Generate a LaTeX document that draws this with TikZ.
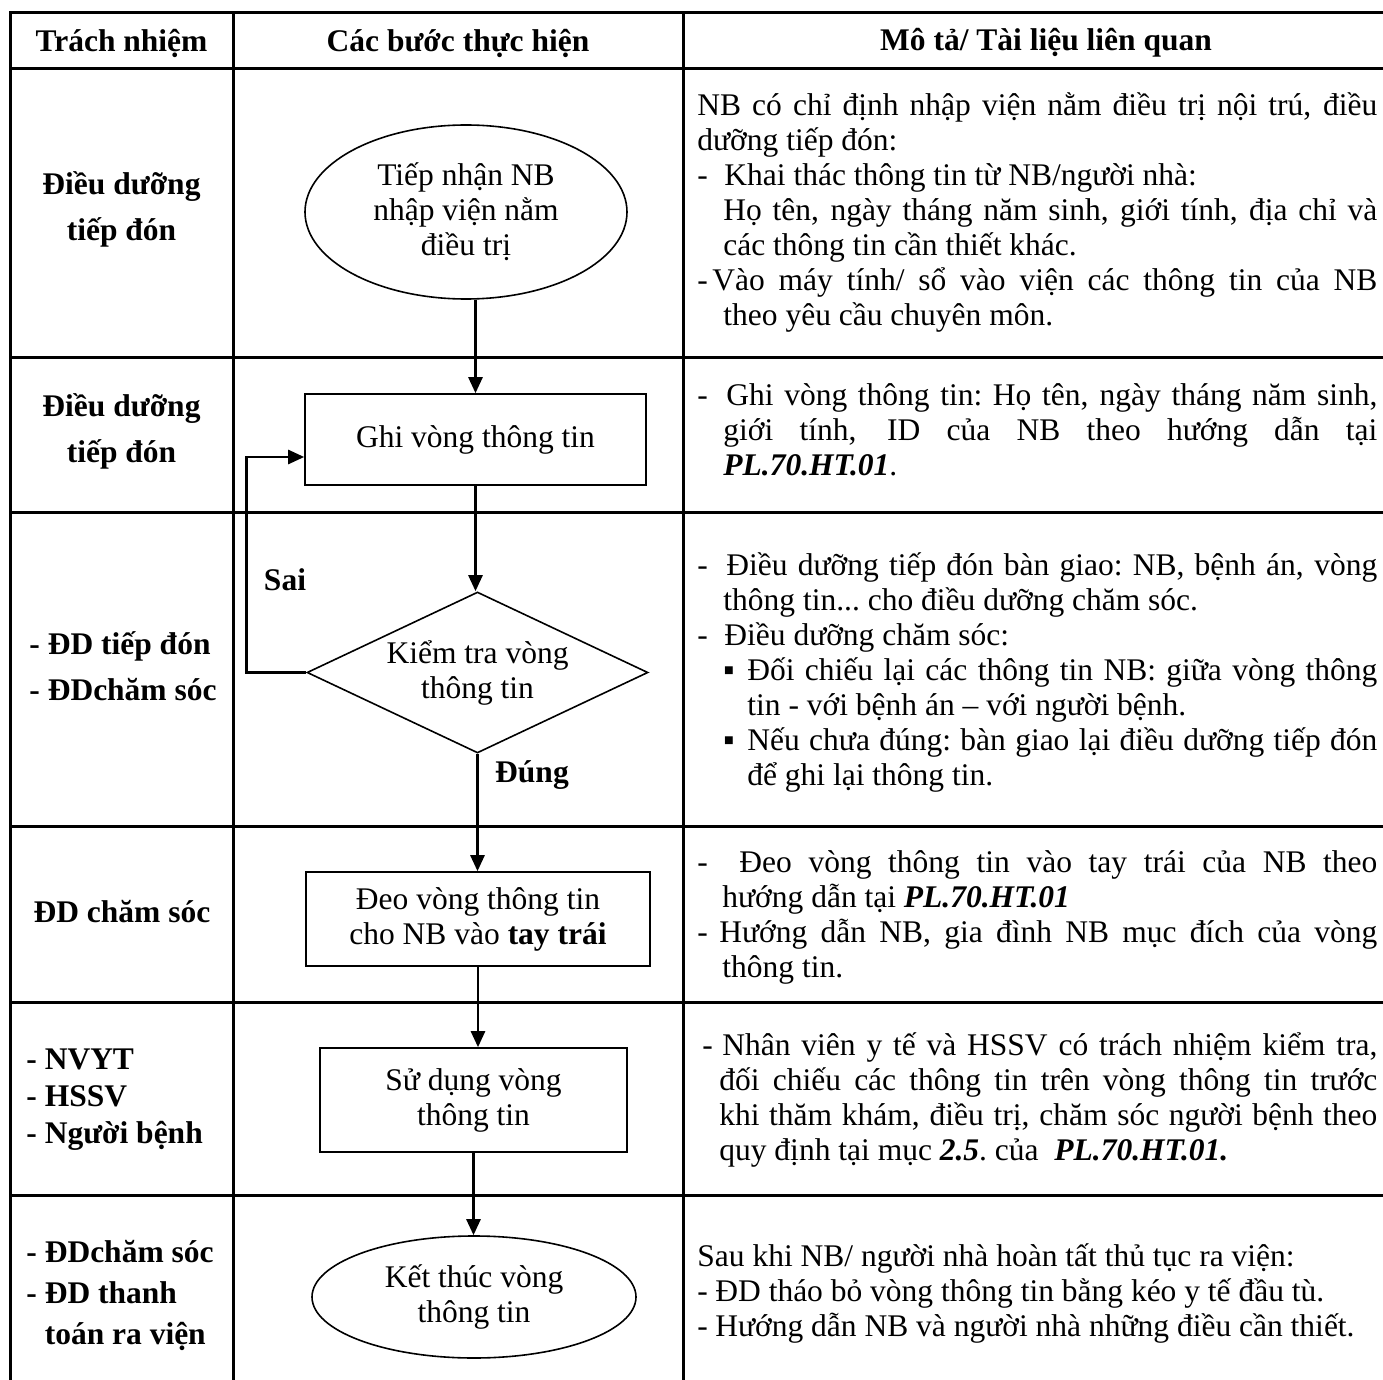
\documentclass[tikz,border=0pt]{standalone}
\usepackage{fontspec}
\setmainfont{Liberation Serif}
\usetikzlibrary{shapes.geometric,arrows.meta,positioning}

\newlength\descw
\setlength\descw{340pt}
% normal word spaces, stretchable
\newcommand\tight{\spaceskip=0.25em plus 0.6em minus 0.08em\xspaceskip=\spaceskip}
% justified line, optional indent
\newcommand\jline[2][0pt]{\hspace*{#1}\makebox[\dimexpr\descw-#1\relax][s]{\tight #2}}
\newcommand\dsh[1][13.5pt]{\makebox[#1][l]{-}}
\newcommand\sqb{\makebox[12pt][l]{▪}}
\newcommand\pl[1]{\textbf{\textit{#1}}}

\begin{document}
\begin{tikzpicture}[x=0.5pt,y=-0.5pt,font=\fontsize{15.75}{17.5}\selectfont]
    \tikzset{
        grid/.style={line width=1.5pt, line cap=rect},
        stepbox/.style={draw, rectangle, line width=0.8pt, align=center, inner sep=0pt},
        term/.style={draw, ellipse, line width=0.8pt, align=center, inner sep=0pt},
        check/.style={draw, diamond, aspect=2, line width=0.8pt, align=center, inner sep=0pt},
        arc/.style={-{Triangle[length=8pt,width=7pt]}, line width=1.3pt},
        head/.style={font=\fontsize{15.75}{17.5}\selectfont\bfseries},
        who/.style={font=\fontsize{15.75}{23}\selectfont\bfseries, align=center, inner sep=0pt, execute at begin node=\tight},
        desc/.style={anchor=west, align=left, text width=\descw, inner sep=0pt, execute at begin node=\tight}
    }
    \useasboundingbox (0,0) rectangle (1383,1380);
    \clip (0,0) rectangle (1383,1380);

    % table
    \foreach \y in {13,69,358,512,826,1002,1195}{
        \draw[grid] (10,\y) -- (1400,\y);
    }
    \foreach \x in {10,233,683}{
        \draw[grid] (\x,13) -- (\x,1400);
    }

    % header
    \node[head] (h1) at (121.5,43) {Trách nhiệm};
    \node[head] (h2) at (458,43) {Các bước thực hiện};
    \node[head] (h3) at (1046,43) {Mô tả/ Tài liệu liên quan};

    % who
    \node[who] (r1) at (121.5,209) {Điều dưỡng\\tiếp đón};
    \node[who] (r2) at (121.5,431) {Điều dưỡng\\tiếp đón};
    \node[who, align=left, anchor=west] (r3) at (29,666) {- ĐD tiếp đón\\- ĐDchăm sóc};
    \node[who] (r4) at (122,912) {ĐD chăm sóc};
    \node[who, align=left, anchor=west, font=\fontsize{15.75}{18.5}\selectfont\bfseries] (r5) at (26,1100) {- NVYT\\- HSSV\\- Người bệnh};
    \node[who, align=left, anchor=west, font=\fontsize{15.75}{20.5}\selectfont\bfseries] (r6) at (26,1295) {- ĐDchăm sóc\\- ĐD thanh\\\phantom{- }toán ra viện};

    % steps
    \node[term, minimum width=161pt, minimum height=87pt] (start) at (466,212) {Tiếp nhận NB\\nhập viện nằm\\điều trị};
    \node[stepbox, minimum width=170.5pt, minimum height=45.5pt] (ghi) at (475.5,439.5) {Ghi vòng thông tin};
    \node[check, minimum width=170.5pt, minimum height=80.5pt] (chk) at (477.5,672.5) {Kiểm tra vòng\\thông tin};
    \node[stepbox, minimum width=172pt, minimum height=47pt] (deo) at (478,919) {Đeo vòng thông tin\\cho NB vào \textbf{tay trái}};
    \node[stepbox, minimum width=153.5pt, minimum height=52pt] (dung) at (473.5,1100) {Sử dụng vòng\\thông tin};
    \node[term, minimum width=162pt, minimum height=61pt] (stop) at (474,1297) {Kết thúc vòng\\thông tin};

    \draw[arc] (ghi.north |- start.south) -- (ghi.north);
    \draw[arc] (ghi.south) -- (ghi.south |- chk.north);
    \draw[arc] (chk.south) -- (chk.south |- deo.north);
    \draw[arc] (deo.south) -- (deo.south |- dung.north);
    \draw[arc] (dung.south) -- (dung.south |- stop.north);
    \coordinate (back) at ([yshift=-8.75pt]ghi.west);
    \draw[arc] (chk.west) -- ++(-60,0) |- (back);
    \node[head] (no) at (285,580) {Sai};
    \node[head] (yes) at (532,775) {Đúng};

    % descriptions
    \node[desc] (d1) at (697,212) {%
        \jline{NB có chỉ định nhập viện nằm điều trị nội trú, điều}\\
        dưỡng tiếp đón:\\
        \dsh Khai thác thông tin từ NB/người nhà:\\
        \jline[13pt]{Họ tên, ngày tháng năm sinh, giới tính, địa chỉ và}\\
        \hspace*{13pt}các thông tin cần thiết khác.\\
        \jline{\dsh[7.5pt]Vào máy tính/ sổ vào viện các thông tin của NB}\\
        \hspace*{13pt}theo yêu cầu chuyên môn.};
    \node[desc] (d2) at (697,430) {%
        \jline{\dsh[14.5pt]Ghi vòng thông tin: Họ tên, ngày tháng năm sinh,}\\
        \jline[13pt]{giới tính, ID của NB theo hướng dẫn tại}\\
        \hspace*{13pt}\pl{PL.70.HT.01}.};
    \node[desc] (d3) at (697,672) {%
        \jline{\dsh[14.5pt]Điều dưỡng tiếp đón bàn giao: NB, bệnh án, vòng}\\
        \hspace*{13pt}thông tin... cho điều dưỡng chăm sóc.\\
        \dsh Điều dưỡng chăm sóc:\\
        \jline[13pt]{\sqb Đối chiếu lại các thông tin NB: giữa vòng thông}\\
        \hspace*{25pt}tin - với bệnh án – với người bệnh.\\
        \jline[13pt]{\sqb Nếu chưa đúng: bàn giao lại điều dưỡng tiếp đón}\\
        \hspace*{25pt}để ghi lại thông tin.};
    \node[desc] (d4) at (697,917) {%
        \jline{\dsh[21pt]Đeo vòng thông tin vào tay trái của NB theo}\\
        \hspace*{12.5pt}hướng dẫn tại \pl{PL.70.HT.01}\\
        \jline{\dsh[11pt]Hướng dẫn NB, gia đình NB mục đích của vòng}\\
        \hspace*{12.5pt}thông tin.};
    \node[desc] (d5) at (697,1100) {%
        \jline[2.5pt]{\dsh[10pt]Nhân viên y tế và HSSV có trách nhiệm kiểm tra,}\\
        \jline[11pt]{đối chiếu các thông tin trên vòng thông tin trước}\\
        \jline[11pt]{khi thăm khám, điều trị, chăm sóc người bệnh theo}\\
        \hspace*{11pt}quy định tại mục \pl{2.5}. của \ \pl{PL.70.HT.01.}};
    \node[desc] (d6) at (697,1293) {%
        Sau khi NB/ người nhà hoàn tất thủ tục ra viện:\\
        \dsh[9pt]ĐD tháo bỏ vòng thông tin bằng kéo y tế đầu tù.\\
        \dsh[9pt]Hướng dẫn NB và người nhà những điều cần thiết.};
\end{tikzpicture}
\end{document}
